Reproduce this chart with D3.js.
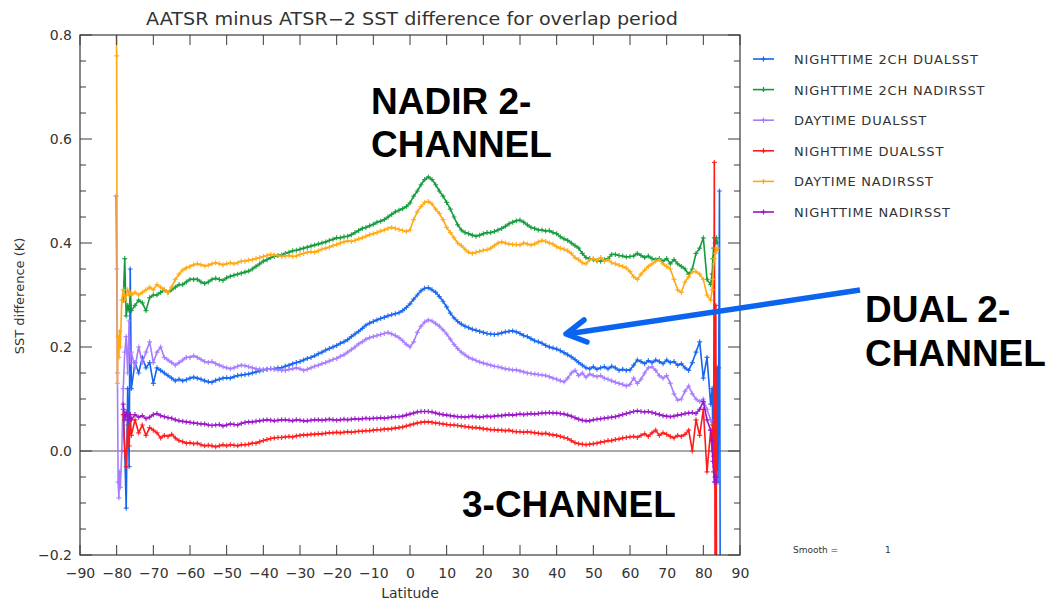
<!DOCTYPE html>
<html><head><meta charset="utf-8">
<script src="https://cdn.jsdelivr.net/npm/d3@7"></script>
<style>
html,body{margin:0;padding:0;background:#fff;}
svg text{font-family:"DejaVu Sans",sans-serif;}
</style></head>
<body><svg id="c" width="1053" height="600"></svg>
<script>
// ---------- DATA ----------
const title = "AATSR minus ATSR\u22122 SST difference for overlap period";
const xTicks = [-90,-80,-70,-60,-50,-40,-30,-20,-10,0,10,20,30,40,50,60,70,80,90];
const yTicks = [-0.2,0.0,0.2,0.4,0.6,0.8];
const yTickLabels = ["\u22120.2","0.0","0.2","0.4","0.6","0.8"];
const seriesNames = ["NIGHTTIME 2CH DUALSST","NIGHTTIME 2CH NADIRSST","DAYTIME DUALSST","NIGHTTIME DUALSST","DAYTIME NADIRSST","NIGHTTIME NADIRSST"];
const seriesColors = ["#1464f0","#139a3c","#a77bff","#ff1a1a","#ffa812","#9a14c8"];

const latLeft = [-80.2,-80.0,-79.8,-79.6,-79.4,-79.2,-79.0,-78.6,-78.2,-77.8,-77.4,-77.0,-76.6,-76.3];
const latBody = d3.range(-76, 83, 1); // -76 .. 82
const latRight = [82.4,82.6,82.8,83.0,83.2,83.4,83.6,83.8,84.0,84.2,84.4,84.6];

// NIGHTTIME 2CH DUALSST (blue)
const blueL = [null,null,null,null,null,null,null,null,0.08,0.0,-0.11,0.12,-0.03,0.35];
const blueB = [
 0.12,0.17,0.15,0.18,0.16,0.17,0.13,0.16,0.155,0.15,
 0.145,0.14,0.135,0.138,0.135,0.137,0.14,0.142,0.14,0.138,
 0.135,0.133,0.132,0.136,0.138,0.14,0.141,0.14,0.143,0.145,
 0.146,0.147,0.148,0.15,0.152,0.154,0.156,0.157,0.158,0.158,
 0.16,0.16,0.163,0.165,0.168,0.17,0.172,0.175,0.178,0.18,
 0.183,0.187,0.19,0.194,0.197,0.2,0.203,0.207,0.21,0.214,
 0.22,0.225,0.23,0.236,0.242,0.246,0.249,0.252,0.255,0.257,
 0.26,0.262,0.264,0.266,0.27,0.276,0.283,0.292,0.3,0.308,
 0.313,0.314,0.31,0.305,0.297,0.288,0.277,0.265,0.256,0.249,
 0.244,0.24,0.237,0.234,0.232,0.23,0.228,0.226,0.225,0.224,
 0.225,0.227,0.229,0.23,0.231,0.229,0.226,0.222,0.22,0.216,
 0.212,0.21,0.207,0.203,0.2,0.198,0.196,0.193,0.189,0.185,
 0.181,0.176,0.17,0.165,0.16,0.158,0.162,0.157,0.16,0.162,
 0.158,0.163,0.16,0.155,0.157,0.155,0.156,0.165,0.175,0.172,
 0.168,0.174,0.17,0.175,0.172,0.168,0.175,0.17,0.172,0.165,
 0.168,0.16,0.155,0.17,0.19,0.21,0.14,0.18,0.09];
const blueR = [0.12,0.03,0.10,0.04,0.08,0.16,-0.04,0.16,-0.06,0.16,0.50,-0.25];

// NIGHTTIME 2CH NADIRSST (green)
const greenL = [null,null,null,null,null,null,null,null,0.29,0.37,0.26,0.28,0.27,0.30];
const greenB = [
 0.27,0.28,0.29,0.285,0.27,0.295,0.30,0.30,0.305,0.31,
 0.305,0.31,0.315,0.32,0.32,0.325,0.33,0.33,0.33,0.325,
 0.322,0.325,0.33,0.332,0.33,0.328,0.333,0.336,0.338,0.34,
 0.342,0.344,0.346,0.35,0.355,0.36,0.365,0.368,0.372,0.374,
 0.376,0.377,0.38,0.382,0.385,0.386,0.388,0.39,0.392,0.394,
 0.396,0.398,0.40,0.402,0.405,0.407,0.41,0.41,0.412,0.413,
 0.416,0.42,0.424,0.428,0.43,0.433,0.436,0.44,0.442,0.445,
 0.45,0.455,0.46,0.463,0.466,0.47,0.477,0.49,0.50,0.512,
 0.522,0.527,0.522,0.512,0.50,0.49,0.478,0.465,0.45,0.435,
 0.425,0.42,0.418,0.415,0.413,0.415,0.418,0.42,0.42,0.422,
 0.425,0.428,0.432,0.437,0.44,0.443,0.444,0.44,0.435,0.43,
 0.428,0.425,0.425,0.423,0.424,0.42,0.418,0.412,0.408,0.405,
 0.40,0.395,0.39,0.38,0.372,0.37,0.368,0.366,0.365,0.368,
 0.37,0.378,0.378,0.376,0.375,0.373,0.374,0.375,0.38,0.376,
 0.372,0.375,0.37,0.368,0.37,0.365,0.37,0.36,0.368,0.36,
 0.355,0.35,0.34,0.35,0.38,0.39,0.41,0.33,0.32];
const greenR = [0.34,0.37,0.39,0.41,0.40,0.40,0.41,0.40,null,null,null,null];

// DAYTIME DUALSST (lavender)
const lavL = [0.49,0.35,0.15,-0.06,-0.09,-0.04,-0.07,0.0,0.12,0.19,0.22,0.15,0.25,0.17];
const lavB = [
 0.19,0.16,0.20,0.17,0.19,0.21,0.17,0.19,0.20,0.18,
 0.175,0.17,0.165,0.17,0.175,0.18,0.18,0.183,0.18,0.176,
 0.172,0.17,0.172,0.168,0.165,0.162,0.16,0.158,0.16,0.163,
 0.165,0.164,0.162,0.16,0.158,0.157,0.156,0.157,0.158,0.157,
 0.156,0.155,0.155,0.157,0.158,0.16,0.158,0.155,0.157,0.16,
 0.163,0.165,0.168,0.17,0.173,0.176,0.178,0.182,0.185,0.19,
 0.195,0.20,0.206,0.21,0.215,0.218,0.22,0.222,0.224,0.226,
 0.228,0.225,0.222,0.218,0.212,0.205,0.20,0.21,0.228,0.24,
 0.248,0.252,0.25,0.245,0.24,0.233,0.225,0.215,0.205,0.197,
 0.19,0.185,0.18,0.177,0.174,0.171,0.169,0.167,0.165,0.163,
 0.162,0.16,0.158,0.157,0.156,0.156,0.154,0.152,0.15,0.149,
 0.148,0.147,0.146,0.145,0.143,0.14,0.138,0.135,0.133,0.14,
 0.15,0.155,0.145,0.15,0.142,0.148,0.145,0.143,0.145,0.14,
 0.138,0.135,0.132,0.13,0.128,0.125,0.128,0.14,0.13,0.138,
 0.15,0.16,0.162,0.155,0.145,0.14,0.145,0.13,0.11,0.098,
 0.10,0.115,0.125,0.11,0.10,0.095,0.10,0.08,0.06];
const lavR = [0.05,0.03,0.0,-0.03,-0.05,-0.04,-0.06,null,null,null,null,null];

// NIGHTTIME DUALSST (red)
const redL = [null,null,null,null,null,null,null,null,0.07,0.0,-0.03,0.05,0.01,0.07];
const redB = [
 0.03,0.06,0.035,0.05,0.03,0.045,0.04,0.035,0.025,0.03,
 0.028,0.032,0.025,0.02,0.018,0.015,0.016,0.014,0.015,0.012,
 0.01,0.011,0.01,0.008,0.01,0.012,0.01,0.012,0.011,0.01,
 0.012,0.012,0.013,0.015,0.015,0.018,0.02,0.022,0.024,0.025,
 0.026,0.026,0.027,0.028,0.027,0.029,0.03,0.031,0.031,0.032,
 0.032,0.033,0.033,0.034,0.035,0.035,0.036,0.035,0.036,0.037,
 0.036,0.037,0.038,0.038,0.039,0.039,0.04,0.041,0.041,0.042,
 0.042,0.043,0.044,0.045,0.046,0.048,0.05,0.052,0.054,0.055,
 0.056,0.056,0.055,0.054,0.053,0.052,0.051,0.05,0.05,0.049,
 0.048,0.047,0.046,0.045,0.045,0.044,0.043,0.042,0.041,0.041,
 0.04,0.04,0.039,0.04,0.038,0.037,0.037,0.036,0.037,0.036,
 0.035,0.034,0.033,0.034,0.032,0.031,0.03,0.028,0.026,0.024,
 0.02,0.016,0.014,0.013,0.012,0.013,0.014,0.015,0.017,0.018,
 0.02,0.02,0.022,0.023,0.025,0.026,0.027,0.028,0.026,0.03,
 0.033,0.028,0.035,0.04,0.03,0.035,0.032,0.028,0.025,0.03,
 0.028,0.032,0.04,0.0,0.06,0.03,0.08,-0.04,0.04];
const redR = [0.0,0.05,-0.01,0.555,-0.25,0.28,-0.25,null,null,null,null,null];

// DAYTIME NADIRSST (orange)
const orangeL = [0.85,0.76,0.13,0.22,0.18,0.23,0.20,0.29,0.31,0.29,0.30,0.31,0.30,0.305];
const orangeB = [
 0.30,0.305,0.30,0.305,0.31,0.315,0.31,0.32,0.315,0.31,
 0.305,0.315,0.33,0.34,0.348,0.352,0.355,0.358,0.36,0.358,
 0.356,0.357,0.36,0.362,0.36,0.358,0.36,0.362,0.36,0.362,
 0.365,0.365,0.367,0.368,0.37,0.372,0.374,0.376,0.378,0.377,
 0.376,0.374,0.375,0.376,0.374,0.375,0.378,0.38,0.382,0.383,
 0.382,0.385,0.388,0.39,0.392,0.395,0.397,0.40,0.402,0.404,
 0.403,0.405,0.408,0.41,0.413,0.416,0.418,0.42,0.423,0.425,
 0.428,0.43,0.428,0.426,0.424,0.422,0.425,0.445,0.46,0.47,
 0.478,0.48,0.475,0.465,0.457,0.445,0.43,0.42,0.41,0.40,
 0.395,0.388,0.382,0.38,0.382,0.384,0.386,0.387,0.39,0.395,
 0.40,0.402,0.40,0.398,0.397,0.397,0.396,0.40,0.398,0.396,
 0.398,0.402,0.405,0.403,0.40,0.398,0.393,0.39,0.388,0.385,
 0.38,0.372,0.368,0.362,0.36,0.368,0.37,0.366,0.372,0.365,
 0.368,0.362,0.36,0.357,0.355,0.352,0.345,0.335,0.33,0.34,
 0.348,0.355,0.36,0.365,0.368,0.36,0.355,0.35,0.33,0.31,
 0.305,0.325,0.335,0.345,0.345,0.34,0.33,0.30,0.29];
const orangeR = [0.31,0.33,0.36,0.37,0.38,0.39,0.385,0.39,null,null,null,null];

// NIGHTTIME NADIRSST (purple)
const purpleL = [null,null,null,null,null,null,null,null,0.09,0.06,0.075,0.06,0.065,0.07];
const purpleB = [
 0.06,0.07,0.065,0.068,0.062,0.065,0.07,0.072,0.068,0.066,
 0.064,0.063,0.06,0.058,0.057,0.056,0.055,0.054,0.053,0.052,
 0.052,0.05,0.049,0.05,0.051,0.048,0.05,0.052,0.051,0.05,
 0.053,0.055,0.056,0.056,0.057,0.058,0.059,0.06,0.059,0.058,
 0.059,0.06,0.06,0.059,0.058,0.06,0.059,0.058,0.058,0.059,
 0.06,0.06,0.059,0.06,0.061,0.06,0.059,0.06,0.061,0.06,
 0.061,0.062,0.061,0.062,0.063,0.062,0.063,0.063,0.064,0.063,
 0.064,0.065,0.066,0.066,0.067,0.069,0.071,0.073,0.075,0.076,
 0.076,0.076,0.075,0.073,0.071,0.07,0.069,0.068,0.067,0.066,
 0.066,0.065,0.066,0.067,0.066,0.065,0.066,0.067,0.066,0.067,
 0.068,0.068,0.069,0.07,0.069,0.07,0.071,0.07,0.071,0.072,
 0.071,0.072,0.073,0.073,0.074,0.073,0.073,0.072,0.071,0.069,
 0.067,0.064,0.061,0.059,0.058,0.058,0.06,0.061,0.062,0.063,
 0.064,0.065,0.066,0.068,0.07,0.072,0.074,0.076,0.077,0.076,
 0.075,0.076,0.074,0.072,0.07,0.068,0.067,0.066,0.067,0.069,
 0.07,0.072,0.073,0.074,0.072,0.08,0.095,0.06,0.04];
const purpleR = [0.02,-0.02,-0.04,-0.06,-0.05,-0.06,-0.05,null,null,null,null,null];

// ---------- BUILD ----------
const latAll = latLeft.concat(latBody, latRight);
const seriesValues = [
  blueL.concat(blueB, blueR),
  greenL.concat(greenB, greenR),
  lavL.concat(lavB, lavR),
  redL.concat(redB, redR),
  orangeL.concat(orangeB, orangeR),
  purpleL.concat(purpleB, purpleR)
];

const svg = d3.select("#c");
const L = 80, R = 740, T = 35, B = 555;
const x = d3.scaleLinear().domain([-90, 90]).range([L, R]);
const y = d3.scaleLinear().domain([-0.2, 0.8]).range([B, T]);
const axisCol = "#3a3a3a", textCol = "#333";

// title
svg.append("text").attr("x", 412).attr("y", 25).attr("text-anchor", "middle")
  .attr("font-size", 17).attr("fill", textCol)
  .attr("textLength", 532).attr("lengthAdjust", "spacingAndGlyphs").text(title);

// clip
svg.append("defs").append("clipPath").attr("id", "pc")
  .append("rect").attr("x", L).attr("y", T).attr("width", R - L).attr("height", B - T);

// zero line
svg.append("line").attr("x1", L).attr("x2", R).attr("y1", y(0)).attr("y2", y(0))
  .attr("stroke", "#555").attr("stroke-width", 1.2);

// series
const plot = svg.append("g").attr("clip-path", "url(#pc)");
const line = d3.line().defined(d => d[1] != null).x(d => x(d[0])).y(d => y(d[1]));
const cross = "M-2.5,0H2.5M0,-2.5V2.5";
seriesValues.forEach((vals, i) => {
  const pts = latAll.map((la, j) => [la, vals[j]]);
  plot.append("path").datum(pts).attr("d", line).attr("fill", "none")
    .attr("stroke", seriesColors[i]).attr("stroke-width", 1.6).attr("stroke-linejoin", "round");
  plot.append("g").selectAll("path").data(pts.filter(p => p[1] != null)).join("path")
    .attr("transform", p => `translate(${x(p[0])},${y(p[1])})`)
    .attr("d", cross).attr("stroke", seriesColors[i]).attr("stroke-width", 1.2).attr("opacity", 0.85);
});

// axes box with ticks
const axB = d3.axisBottom(x).tickValues(xTicks).tickSize(0).tickPadding(13)
  .tickFormat(d => d < 0 ? "\u2212" + Math.abs(d) : d);
const gB = svg.append("g").attr("transform", `translate(0,${B})`).call(axB);
gB.select(".domain").remove();
gB.selectAll("text").attr("font-size", 14).attr("fill", textCol).attr("font-family", "DejaVu Sans");

const axL = d3.axisLeft(y).tickValues(yTicks).tickSize(0).tickPadding(8)
  .tickFormat((d, i) => yTickLabels[i]);
const gL = svg.append("g").attr("transform", `translate(${L},0)`).call(axL);
gL.select(".domain").remove();
gL.selectAll("text").attr("font-size", 14).attr("fill", textCol).attr("font-family", "DejaVu Sans");

const ticksG = svg.append("g").attr("stroke", axisCol).attr("stroke-width", 1);
xTicks.forEach(t => {
  ticksG.append("line").attr("x1", x(t)).attr("x2", x(t)).attr("y1", B).attr("y2", B - 10);
  ticksG.append("line").attr("x1", x(t)).attr("x2", x(t)).attr("y1", T).attr("y2", T + 10);
});
const yMinor = d3.range(-4, 17).map(k => k * 0.05);
yMinor.forEach(t => {
  const major = Math.abs(Math.round(t * 100) % 20) === 0;
  const len = major ? 12 : 6;
  ticksG.append("line").attr("x1", L).attr("x2", L + len).attr("y1", y(t)).attr("y2", y(t));
  ticksG.append("line").attr("x1", R).attr("x2", R - len).attr("y1", y(t)).attr("y2", y(t));
});
svg.append("rect").attr("x", L).attr("y", T).attr("width", R - L).attr("height", B - T)
  .attr("fill", "none").attr("stroke", axisCol).attr("stroke-width", 1.2);

// axis titles
svg.append("text").attr("x", 410).attr("y", 598).attr("text-anchor", "middle")
  .attr("font-size", 14).attr("fill", textCol).text("Latitude");
svg.append("text").attr("transform", "translate(24,296) rotate(-90)").attr("text-anchor", "middle")
  .attr("font-size", 13).attr("fill", textCol).text("SST difference (K)");

// legend
const lg = svg.append("g");
seriesNames.forEach((n, i) => {
  const yy = 59 + i * 30.6;
  lg.append("line").attr("x1", 753).attr("x2", 774).attr("y1", yy).attr("y2", yy)
    .attr("stroke", seriesColors[i]).attr("stroke-width", 1.6);
  lg.append("path").attr("transform", `translate(763.5,${yy})`).attr("d", cross)
    .attr("stroke", seriesColors[i]).attr("stroke-width", 1.2);
  lg.append("text").attr("x", 794).attr("y", yy + 5).attr("font-size", 13)
    .attr("fill", textCol).attr("letter-spacing", 0.8).text(n);
});

// smooth note
svg.append("text").attr("x", 793).attr("y", 553).attr("font-size", 9).attr("fill", textCol).text("Smooth =");
svg.append("text").attr("x", 885).attr("y", 553).attr("font-size", 9).attr("fill", textCol).text("1");

// annotations
const annFont = "'Liberation Sans', Arial, sans-serif";
const ann = svg.append("g").attr("font-weight", "bold").attr("font-size", 37).attr("fill", "#000");
[["NADIR 2-", 371, 114], ["CHANNEL", 371, 157], ["DUAL 2-", 865, 322], ["CHANNEL", 865, 366], ["3-CHANNEL", 462, 517]]
  .forEach(a => ann.append("text").attr("x", a[1]).attr("y", a[2]).style("font-family", annFont).text(a[0]));

// arrow
const arrowCol = "#0a64f0";
svg.append("line").attr("x1", 860).attr("y1", 290).attr("x2", 567).attr("y2", 334)
  .attr("stroke", arrowCol).attr("stroke-width", 5.5).attr("stroke-linecap", "butt");
svg.append("path").attr("d", "M584,320 L566,334 L587,342").attr("fill", "none")
  .attr("stroke", arrowCol).attr("stroke-width", 5.5).attr("stroke-linecap", "round").attr("stroke-linejoin", "round");
</script></body></html>
